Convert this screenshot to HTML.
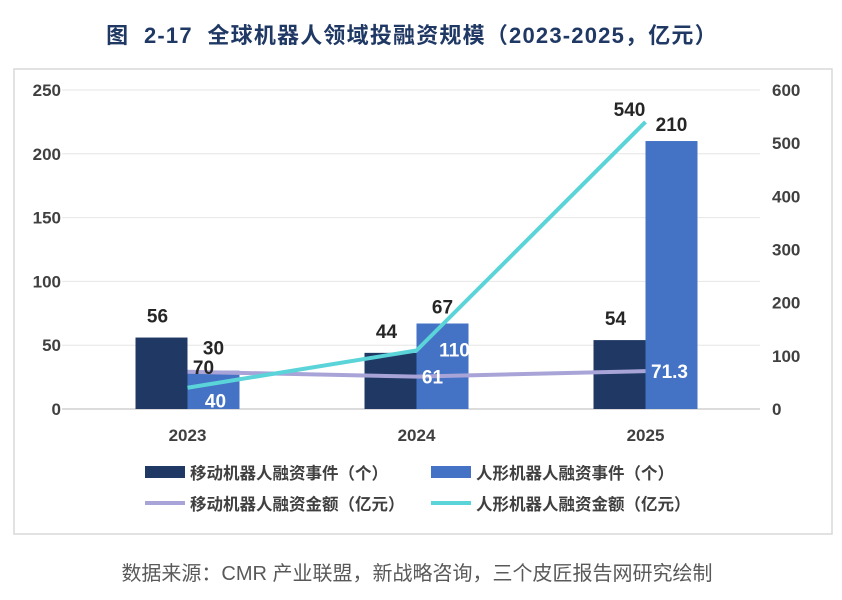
<!DOCTYPE html>
<html><head><meta charset="utf-8"><style>
body{margin:0;width:842px;height:595px;background:#fff;overflow:hidden;font-family:"Liberation Sans","Noto Sans CJK SC",sans-serif;}
</style></head><body>
<svg width="842" height="595" xmlns="http://www.w3.org/2000/svg" font-family="'Liberation Sans','Noto Sans CJK SC',sans-serif">
<text x="412" y="43" text-anchor="middle" font-size="22" font-weight="bold" fill="#1f3864" letter-spacing="1.2" xml:space="preserve">图&#160;&#160;2-17&#160;&#160;全球机器人领域投融资规模（2023-2025，亿元）</text>
<rect x="14" y="69" width="818" height="465" fill="none" stroke="#d9d9d9" stroke-width="1.5"/>
<g id="grid"></g><g id="bars"></g><g id="lines"></g><g id="labels"></g>
<g font-size="16.5" font-weight="bold" fill="#404040">
<rect x="145" y="466" width="40" height="12" fill="#1f3864"/>
<text x="190" y="479">移动机器人融资事件（个）</text>
<rect x="431" y="466" width="40" height="12" fill="#4472c4"/>
<text x="476" y="479">人形机器人融资事件（个）</text>
<line x1="145" y1="503" x2="185" y2="503" stroke="#a9a4d8" stroke-width="4"/>
<text x="190" y="510">移动机器人融资金额（亿元）</text>
<line x1="431" y1="503" x2="471" y2="503" stroke="#5ad4d8" stroke-width="4"/>
<text x="476" y="510">人形机器人融资金额（亿元）</text>
</g>
<text x="417" y="580" text-anchor="middle" font-size="20" fill="#595959">数据来源：CMR 产业联盟，新战略咨询，三个皮匠报告网研究绘制</text>
</svg>
<script>
const categories=["2023","2024","2025"];
const mobileEvents=[56,44,54];
const humanoidEvents=[30,67,210];
const mobileAmount=[70,61,71.3];
const humanoidAmount=[40,110,540];
const leftTicks=[0,50,100,150,200,250];
const rightTicks=[0,100,200,300,400,500,600];
const NS="http://www.w3.org/2000/svg";
const x0=73,step=229,yTop=90,yBot=409,bw=52;
const xc=i=>x0+step*i+step/2;
const yL=v=>yBot-(v/250)*(yBot-yTop);
const yR=v=>yBot-(v/600)*(yBot-yTop);
function mk(tag,attrs,parent,txt){const e=document.createElementNS(NS,tag);for(const k in attrs)e.setAttribute(k,attrs[k]);if(txt!==undefined)e.textContent=txt;document.getElementById(parent).appendChild(e);return e;}
leftTicks.forEach(t=>{
 const l=mk('line',{x1:62,x2:760,y1:yL(t),y2:yL(t),stroke:t===0?'#d0d0d0':'#e6e6e6','stroke-width':t===0?1.5:1},'grid');
 
 
 const tx=mk('text',{x:61,y:yL(t)+6,'text-anchor':'end','font-size':17,'font-weight':'bold',fill:'#404040'},'grid',t);
 
 
});
rightTicks.forEach(t=>{
 const tx=mk('text',{x:772,y:yR(t)+6,'font-size':17,'font-weight':'bold',fill:'#404040'},'grid',t);
 
 
});
categories.forEach((c,i)=>{
 const tx=mk('text',{x:xc(i),y:441,'text-anchor':'middle','font-size':17,'font-weight':'bold',fill:'#404040'},'grid',c);
 
 
 const b1=mk('rect',{x:xc(i)-bw,y:yL(mobileEvents[i]),width:bw,height:yBot-yL(mobileEvents[i]),fill:'#1f3864'},'bars');
 
 
 const b2=mk('rect',{x:xc(i),y:yL(humanoidEvents[i]),width:bw,height:yBot-yL(humanoidEvents[i]),fill:'#4472c4'},'bars');
 
 
 const l1=mk('text',{x:xc(i)-bw/2-4,y:yL(mobileEvents[i])-15,'text-anchor':'middle','font-size':19,'font-weight':'bold',fill:'#262626'},'labels',mobileEvents[i]);
 
 
 const l2=mk('text',{x:xc(i)+bw/2,y:yL(humanoidEvents[i])-(i===0?16:10),'text-anchor':'middle','font-size':19,'font-weight':'bold',fill:'#262626'},'labels',humanoidEvents[i]);
 
 
});
function line(vals,color,name){
 const p=mk('polyline',{points:vals.map((v,i)=>xc(i)+','+yR(v)).join(' '),fill:'none',stroke:color,'stroke-width':4,'stroke-linejoin':'round'},'lines');
 
 
}
line(mobileAmount,'#a9a4d8','line-mobile-amount');
line(humanoidAmount,'#5ad4d8','line-humanoid-amount');
mobileAmount.forEach((v,i)=>{
 const t=mk('text',{x:xc(i)+(i===2?24:16),y:yR(v)+(i===0?2:7),'text-anchor':'middle','font-size':19,'font-weight':'bold',fill:i===0?'#262626':'#fff'},'labels',v);
 
 
});
humanoidAmount.forEach((v,i)=>{
 const t=mk('text',{x:i===2?xc(i)-16:xc(i)+(i===0?28:38),y:i===2?yR(v)-6:yR(v)+(i===0?20:6),'text-anchor':'middle','font-size':19,'font-weight':'bold',fill:i===2?'#262626':'#fff'},'labels',v);
 
 
});
</script>
</body></html>
